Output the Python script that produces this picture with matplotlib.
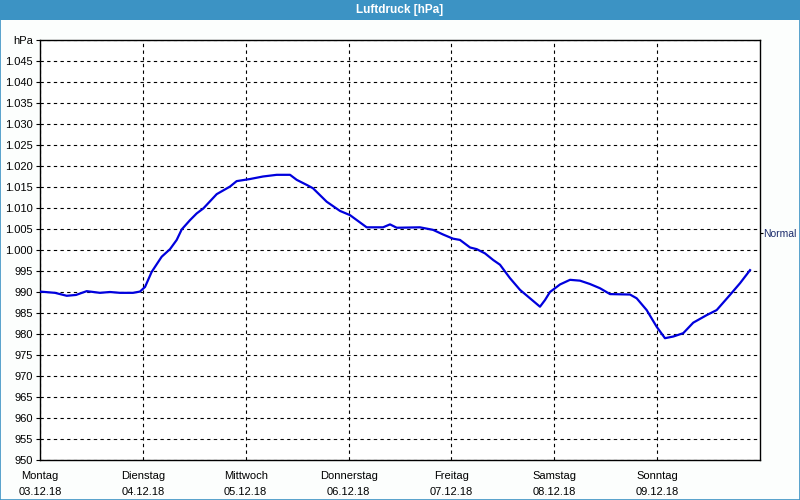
import matplotlib
matplotlib.use("Agg")
import matplotlib.pyplot as plt
from matplotlib.patches import Rectangle

plt.rcParams['font.family'] = ['Liberation Sans', 'DejaVu Sans']

# ---- data ----
title = "Luftdruck [hPa]"
day_names = ["Montag", "Dienstag", "Mittwoch", "Donnerstag", "Freitag", "Samstag", "Sonntag"]
day_dates = ["03.12.18", "04.12.18", "05.12.18", "06.12.18", "07.12.18", "08.12.18", "09.12.18"]
normal_value = 1004.1

# time in days since Monday 00:00, pressure in hPa
time_days = [0.000, 0.146, 0.260, 0.350, 0.454, 0.583, 0.680, 0.778, 0.904, 0.972,
             1.021, 1.086, 1.183, 1.264, 1.329, 1.378, 1.458, 1.523, 1.588, 1.718,
             1.847, 1.912, 2.042, 2.168, 2.301, 2.431, 2.496, 2.593, 2.654, 2.787,
             2.917, 3.014, 3.176, 3.335, 3.403, 3.468, 3.694, 3.821, 3.918, 4.015,
             4.083, 4.181, 4.246, 4.326, 4.407, 4.472, 4.569, 4.667, 4.764, 4.861,
             4.910, 4.958, 5.056, 5.153, 5.250, 5.347, 5.444, 5.542, 5.736, 5.801,
             5.898, 5.996, 6.076, 6.157, 6.254, 6.351, 6.482, 6.579, 6.708, 6.806,
             6.903]
pressure = [990.1, 989.8, 989.1, 989.3, 990.2, 989.8, 990.0, 989.8, 989.8, 990.1,
            991.2, 994.8, 998.4, 1000.2, 1002.4, 1004.9, 1007.1, 1008.7, 1009.9, 1013.3,
            1015.1, 1016.4, 1016.9, 1017.5, 1017.9, 1017.9, 1016.7, 1015.5, 1014.7, 1011.5,
            1009.3, 1008.3, 1005.4, 1005.4, 1006.1, 1005.3, 1005.4, 1004.8, 1003.7, 1002.7,
            1002.4, 1000.6, 1000.2, 999.2, 997.6, 996.5, 993.3, 990.5, 988.5, 986.5,
            988.1, 990.0, 991.8, 992.9, 992.7, 991.9, 990.9, 989.5, 989.4, 988.5,
            985.7, 981.7, 979.0, 979.4, 980.2, 982.7, 984.5, 985.7, 989.3, 992.1,
            995.2]

y_ticks = list(range(950, 1051, 5))


def fmt(v):
    if v == 1050:
        return "hPa"
    if v >= 1000:
        return f"{v // 1000}.{v % 1000:03d}"
    return str(v)


fig = plt.figure(figsize=(8, 5), dpi=100)
fig.patch.set_facecolor("#FCFEFD")

# title bar
fig.patches.append(Rectangle((0, 0.96), 1, 0.04, transform=fig.transFigure,
                             facecolor="#3C93C4", edgecolor="none", zorder=0))
fig.text(0.5, 0.979, title, color="white", fontsize=8.5, fontweight="bold",
         ha="center", va="center")
# frame border
fig.patches.append(Rectangle((0.0006, 0.001), 0.9988, 0.99, transform=fig.transFigure,
                             facecolor="none", edgecolor="#3C93C4", linewidth=1.2, zorder=0))

ax = fig.add_axes([0.05, 0.08, 0.90, 0.84])
ax.set_facecolor("white")
ax.plot(time_days, pressure, color="#0000DD", linewidth=1.6, zorder=3)

ax.set_xlim(0, 7)
ax.set_ylim(950, 1050)
ax.set_yticks(y_ticks)
ax.set_yticklabels([fmt(v) for v in y_ticks])
ax.set_xticks(range(len(day_names)))
ax.set_xticklabels([f"{n}\n{d}" for n, d in zip(day_names, day_dates)], linespacing=1.75)

ax.grid(True, color="black", linestyle=(0, (3, 3)), linewidth=0.8)
ax.tick_params(axis="y", length=3, width=0.8, pad=2, labelsize=8, colors="black")
ax.tick_params(axis="x", length=0, pad=8, labelsize=8)
for s in ax.spines.values():
    s.set_linewidth(1.0)
    s.set_color("black")

ax2 = ax.twinx()
ax2.set_ylim(950, 1050)
ax2.set_yticks([normal_value])
ax2.set_yticklabels(["Normal"])
ax2.tick_params(axis="y", length=2, width=0.8, pad=0.5, labelsize=7.5, labelcolor="#1C2C6C")
for s in ax2.spines.values():
    s.set_visible(False)

fig.savefig("out.png", dpi=100, facecolor=fig.get_facecolor())
